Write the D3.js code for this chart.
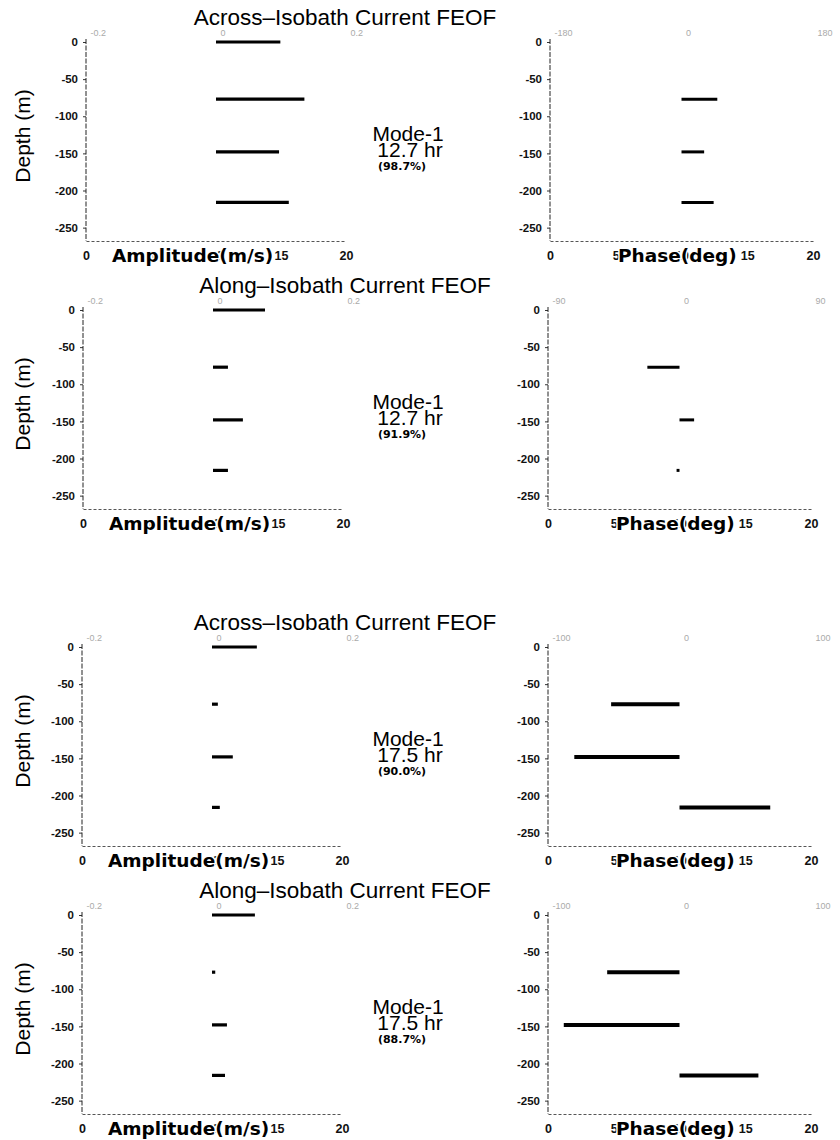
<!DOCTYPE html>
<html>
<head>
<meta charset="utf-8">
<script src="https://cdn.jsdelivr.net/npm/d3@7"></script>
<style>
  body { margin: 0; background: #fff; }
  #svg-container { width: 840px; height: 1140px; }
  .title, .mode { font-family: "Liberation Sans", Arial, sans-serif; fill: #000; }
  .axis-title, .pct { font-family: "DejaVu Sans", sans-serif; font-weight: bold; fill: #000; }
  .axis-title { stroke: #fff; stroke-width: 3px; paint-order: stroke; }
  .y-axis text, .x-axis text { font-family: "Liberation Sans", Arial, sans-serif; font-weight: bold; fill: #111; }
  .top-axis text { font-family: "Liberation Sans", Arial, sans-serif; fill: #aaa; }
</style>
</head>
<body>
<div id="svg-container"></div>
<script>
////////////////////////////////////////////////////////////////////
////////////////////////////  Data  ////////////////////////////////
const titles = [
  "Across–Isobath Current FEOF",
  "Along–Isobath Current FEOF",
  "Across–Isobath Current FEOF",
  "Along–Isobath Current FEOF",
];
const periods = ["12.7 hr", "12.7 hr", "17.5 hr", "17.5 hr"];
const variance = ["(98.7%)", "(91.9%)", "(90.0%)", "(88.7%)"];

const depths = [0, -77, -148, -216];

// amplitude (m/s), on the -0.2 .. 0.2 top scale
const ampRow1 = [0.099, 0.136, 0.097, 0.112];
const ampRow2 = [0.080, 0.023, 0.046, 0.023];
const ampRow3 = [0.069, 0.009, 0.032, 0.012];
const ampRow4 = [0.066, 0.005, 0.023, 0.020];

// phase (deg); no value at the surface
const phaseRow1 = [null, 49, 31, 44];
const phaseRow2 = [null, -22, 10, -2];
const phaseRow3 = [null, -52, -80, 69];
const phaseRow4 = [null, -55, -88, 60];

const phaseLimits = [180, 90, 100, 100];

const depthTicks = [0, -50, -100, -150, -200, -250];
const bottomTicks = [0, 5, 10, 15, 20];
const ampTopTicks = [-0.2, 0, 0.2];

const ampRows = [ampRow1, ampRow2, ampRow3, ampRow4];
const phaseRows = [phaseRow1, phaseRow2, phaseRow3, phaseRow4];

////////////////////////////////////////////////////////////////////
////////////////////////////  Init  ////////////////////////////////
const svg = d3
  .select("#svg-container")
  .append("svg")
  .attr("width", 840)
  .attr("height", 1140);

svg.append("rect").attr("width", 840).attr("height", 1140).attr("fill", "#fff");

// layout for each row (plot top, amplitude axis x, phase axis x)
const rowTop = [42, 310, 647, 915];
const ampLeft = [86, 83, 82, 82];
const phaseLeft = [550, 548, 548, 548];
const ampWidth = 260;
const phaseWidth = 263;
const plotHeight = 199;

////////////////////////////////////////////////////////////////////
////////////////////////////  Panels  //////////////////////////////
function drawPanel(parent, left, width, top, topTicks, values, axisLabel, labelX, barWidth) {
  const g = parent.append("g").attr("class", "panel");
  const yScale = d3.scaleLinear().domain([0, -268]).range([top, top + plotHeight]);
  const xBottom = d3.scaleLinear().domain([0, 20]).range([left, left + width]);
  const xTop = d3
    .scaleLinear()
    .domain([topTicks[0], topTicks[topTicks.length - 1]])
    .range([left, left + width]);

  // depth axis
  g.append("g")
    .attr("class", "y-axis")
    .attr("transform", `translate(${left},0)`)
    .call(d3.axisLeft(yScale).tickValues(depthTicks).tickSize(3).tickPadding(5).tickFormat((d) => String(d)))
    .call((a) => a.select(".domain").remove())
    .call((a) => a.selectAll("text").style("font-size", "11.5px"))
    .call((a) => a.selectAll("line").attr("stroke", "#333"));

  g.append("line")
    .attr("x1", left)
    .attr("x2", left)
    .attr("y1", top - 3)
    .attr("y2", top + plotHeight)
    .attr("stroke", "#222")
    .attr("stroke-width", 1)
    .attr("stroke-dasharray", "5,1.5");

  // bottom axis
  g.append("g")
    .attr("class", "x-axis")
    .attr("transform", `translate(0,${top + plotHeight})`)
    .call(d3.axisBottom(xBottom).tickValues(bottomTicks).tickSize(0).tickPadding(10))
    .call((a) => a.select(".domain").attr("stroke", "#555").attr("stroke-dasharray", "3,2"))
    .call((a) => a.selectAll("text").style("font-size", "12.5px"));

  // faint top labels
  g.append("g")
    .attr("class", "top-axis")
    .attr("transform", `translate(0,${top - 4})`)
    .call(d3.axisTop(xTop).tickValues(topTicks).tickSize(0).tickPadding(2).tickFormat((d) => String(d)))
    .call((a) => a.select(".domain").remove())
    .call((a) => a.selectAll("text").attr("text-anchor", "start").attr("dx", 4).style("font-size", "9px"));

  g.append("text")
    .attr("class", "axis-title")
    .attr("x", labelX)
    .attr("y", top + 220)
    .style("font-size", "18.5px")
    .text(axisLabel);

  // horizontal bars from zero
  const bars = depths
    .map((d, i) => ({ depth: d, value: values[i] }))
    .filter((d) => d.value !== null);

  g.selectAll(".bar")
    .data(bars)
    .join("line")
    .attr("class", "bar")
    .attr("x1", xTop(0))
    .attr("x2", (d) => xTop(d.value))
    .attr("y1", (d) => yScale(d.depth))
    .attr("y2", (d) => yScale(d.depth))
    .attr("stroke", "#000")
    .attr("stroke-width", barWidth);
}

titles.forEach((title, i) => {
  const top = rowTop[i];
  const row = svg.append("g").attr("class", `row-${i + 1}`);

  row.append("text")
    .attr("class", "title")
    .attr("x", 345)
    .attr("y", top - 17)
    .attr("text-anchor", "middle")
    .style("font-size", "22.5px")
    .text(title);

  row.append("text")
    .attr("class", "mode")
    .attr("transform", `translate(30,${top + 94}) rotate(-90)`)
    .attr("text-anchor", "middle")
    .style("font-size", "21px")
    .text("Depth (m)");

  const lim = phaseLimits[i];
  drawPanel(row, ampLeft[i], ampWidth, top, ampTopTicks, ampRows[i], "Amplitude(m/s)", ampLeft[i] + 26, 3.2);
  drawPanel(row, phaseLeft[i], phaseWidth, top, [-lim, 0, lim], phaseRows[i], "Phase(deg)", phaseLeft[i] + 68, i < 2 ? 3 : 4);

  // mode annotation
  const cx = 408;
  row.append("text")
    .attr("class", "mode")
    .attr("x", cx)
    .attr("y", top + 99)
    .attr("text-anchor", "middle")
    .style("font-size", "21px")
    .text("Mode-1");

  row.append("text")
    .attr("class", "mode")
    .attr("x", cx + 2)
    .attr("y", top + 115)
    .attr("text-anchor", "middle")
    .style("font-size", "21px")
    .text(periods[i]);

  row.append("text")
    .attr("class", "pct")
    .attr("x", cx - 6)
    .attr("y", top + 128)
    .attr("text-anchor", "middle")
    .style("font-size", "11px")
    .text(variance[i]);
});
</script>
</body>
</html>
